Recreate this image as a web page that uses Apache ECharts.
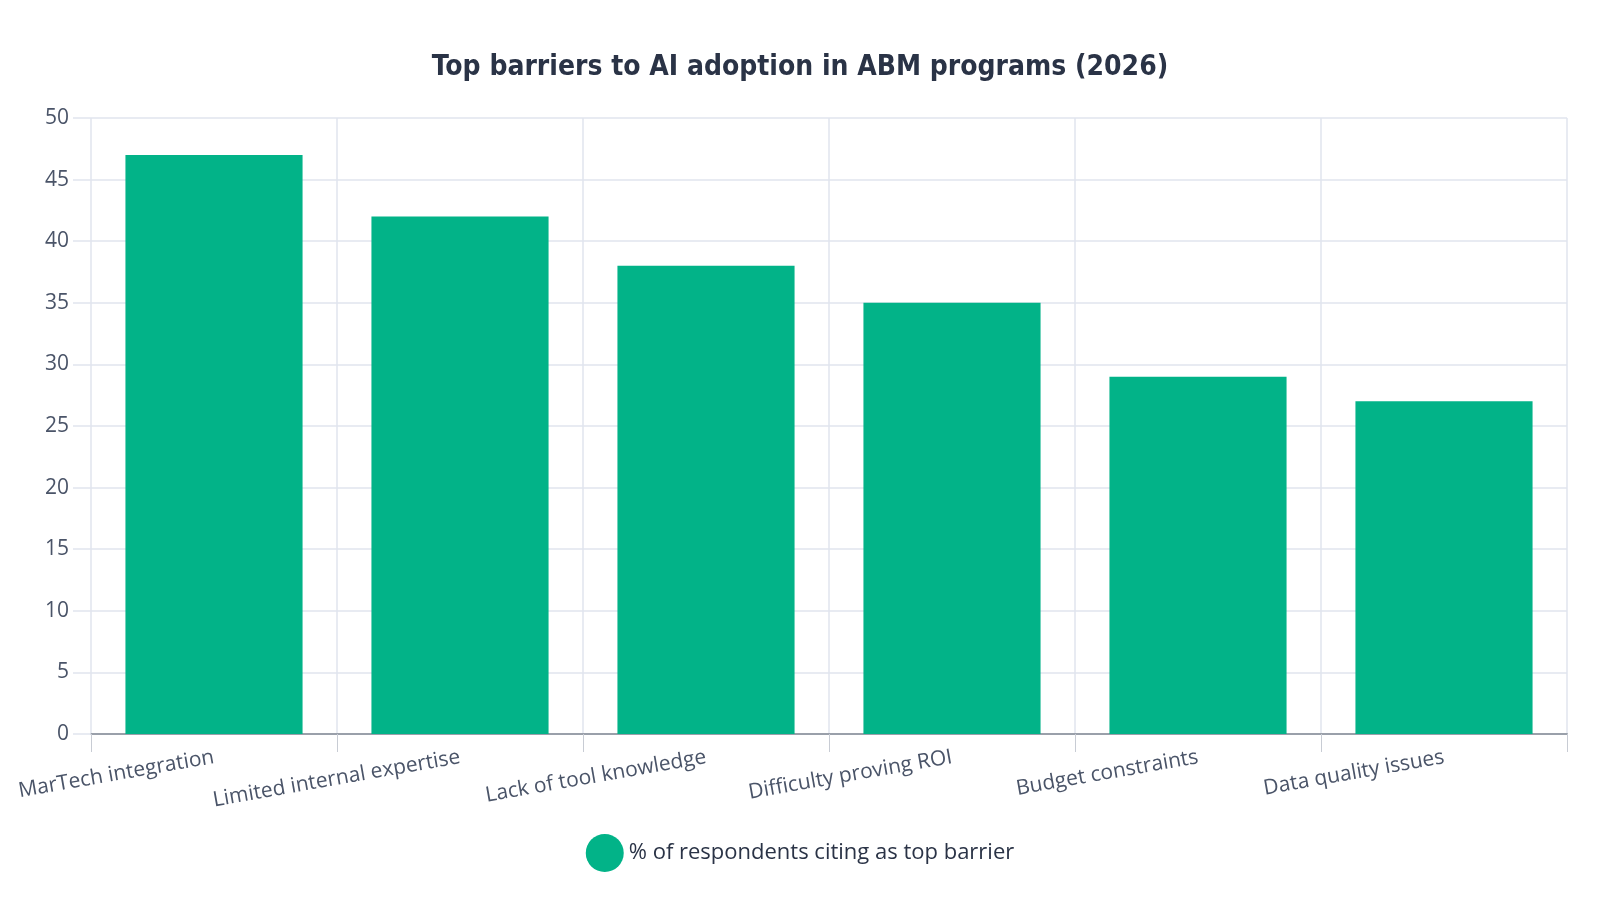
<html>
<head>
    <meta charset="utf-8">
    <script src="https://cdn.jsdelivr.net/npm/echarts@6/dist/echarts.min.js"></script>
    <style>
        html, body { margin: 0; padding: 0; background: #fff; }
        #chart { width: 1600px; height: 900px; }
    </style>
</head>
<body>
    <div id="chart"></div>
    <script>
        // data
        var categories = ['MarTech integration', 'Limited internal expertise', 'Lack of tool knowledge',
            'Difficulty proving ROI', 'Budget constraints', 'Data quality issues'];
        var seriesName = '% of respondents citing as top barrier';
        var values = [47, 42, 38, 35, 29, 27];

        var myChart = echarts.init(document.getElementById('chart'));
        var gridColor = '#e1e5ee';
        var textColor = '#4a5468';

        var option = {
            animation: false,
            title: {
                text: 'Top barriers to AI adoption in ABM programs (2026)',
                left: 'center',
                top: 49,
                textStyle: {
                    fontFamily: "'DejaVu Sans Condensed', 'Liberation Sans Narrow', Roboto, sans-serif",
                    fontSize: 28,
                    fontWeight: 'bold',
                    color: '#2a3346'
                }
            },
            legend: {
                bottom: 23,
                left: 'center',
                icon: 'circle',
                itemWidth: 38,
                itemHeight: 38,
                itemGap: 8,
                itemStyle: { borderWidth: 0 },
                textStyle: { fontFamily: "'Open Sans', sans-serif", fontSize: 22, color: '#2a3346' },
                data: [seriesName]
            },
            grid: { left: 91, right: 33, top: 118, bottom: 166, containLabel: false },
            xAxis: {
                type: 'category',
                data: categories,
                axisLine: { lineStyle: { color: '#9aa0aa', width: 2 } },
                axisTick: { show: true, length: 18, lineStyle: { color: '#c8ccd4' } },
                splitLine: { show: true, lineStyle: { color: gridColor, width: 1.5 } },
                axisLabel: {
                    rotate: 10,
                    margin: 23,
                    fontFamily: "'Open Sans', sans-serif",
                    fontSize: 21,
                    color: textColor
                }
            },
            yAxis: {
                type: 'value',
                min: 0,
                max: 50,
                interval: 5,
                axisLine: { show: false },
                axisTick: { show: true, length: 18, lineStyle: { color: gridColor, width: 1.5 } },
                splitLine: { lineStyle: { color: gridColor, width: 1.5 } },
                axisLabel: {
                    margin: 22,
                    fontFamily: "'Open Sans', sans-serif",
                    fontSize: 21,
                    color: textColor
                }
            },
            series: [{
                name: seriesName,
                type: 'bar',
                data: values,
                barWidth: '72%',
                itemStyle: { color: '#02b388' }
            }]
        };
        myChart.setOption(option);
    </script>
</body>
</html>
